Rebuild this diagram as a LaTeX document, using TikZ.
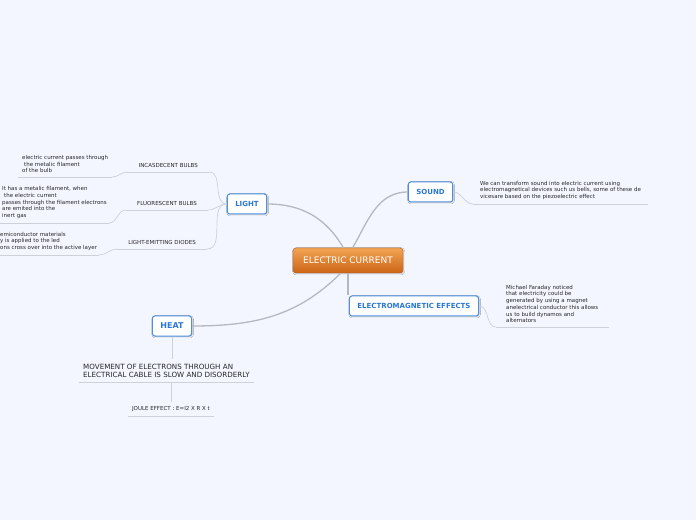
\documentclass[tikz,border=0pt]{standalone}
\usepackage{fontspec}
\setmainfont{DejaVu Sans}
\usetikzlibrary{shadows.blur}
\definecolor{mindbg}{HTML}{F3F6FE}
\definecolor{mindblue}{HTML}{2A78D2}
\definecolor{mindframe}{HTML}{4F90DA}
\definecolor{mindorangetop}{HTML}{F2A453}
\definecolor{mindorangebot}{HTML}{CC6415}
\definecolor{mindgray}{HTML}{B4B8C0}
\definecolor{mindline}{HTML}{CDD1D8}
\definecolor{mindtext}{HTML}{262626}
\tikzset{
  centraltopic/.style={rectangle,rounded corners=3pt,draw=mindorangebot!90!black,
    top color=mindorangetop,bottom color=mindorangebot,minimum width=110pt,minimum height=25pt,
    text=white,font=\fontsize{9}{10}\selectfont,
    blur shadow={shadow xshift=0.6pt,shadow yshift=-0.8pt,shadow opacity=25,shadow blur radius=1.2pt}},
  topic/.style={rectangle,rounded corners=2.5pt,draw=mindframe,fill=white,line width=1pt,
    inner xsep=8pt,minimum height=20pt,text=mindblue,font=\fontsize{#1}{9}\selectfont\bfseries,
    blur shadow={shadow xshift=0.6pt,shadow yshift=-0.8pt,shadow opacity=22,shadow blur radius=1.2pt}},
  topic/.default=7,
  subtopic/.style={inner xsep=11pt,inner ysep=4pt,text=mindtext,font=\fontsize{5.5}{6.7}\selectfont},
  note/.style={align=left,inner xsep=#1,inner ysep=4pt,text=mindtext,font=\fontsize{5.5}{6.7}\selectfont},
  note/.default=4pt,
  branch/.style={draw=mindgray,line width=1.3pt},
  twig/.style={draw=mindline,line width=0.7pt}
}

\begin{document}
\begin{tikzpicture}[x=1pt,y=1pt]
\useasboundingbox (0,0) rectangle (696,520);
\fill[mindbg] (0,0) rectangle (696,520);

% main topics
\node[centraltopic] (current) at (348,259.5) {ELECTRIC CURRENT};
\node[topic] (light) at (247,316) {LIGHT};
\node[topic] (sound) at (430.5,328) {SOUND};
\node[topic] (emeffects) at (414,214) {ELECTROMAGNETIC EFFECTS};
\node[topic=8] (heat) at (172,194) {HEAT};

% light
\node[subtopic,anchor=south east] (incandescent) at (209,348) {INCASDECENT BULBS};
\node[subtopic,anchor=south east] (fluorescent) at (208,310) {FLUORESCENT BULBS};
\node[subtopic,anchor=south east] (diodes) at (207,271) {LIGHT-EMITTING DIODES};
\node[note,anchor=south west] (incandescentnote) at (18,343)
  {electric current passes through\\\hspace{2pt}the metalic filament\\of the bulb};
\node[note=2pt,anchor=south west] (fluorescentnote) at (0,297)
  {It has a metalic filament, when\\\hspace{2pt}the electric current\\passes through the filament electrons\\are emited into the\\inert gas};
\node[note=2pt,anchor=south west] (diodesnote) at (-2,265)
  {emiconductor materials\\y is applied to the led\\ons cross over into the active layer};

% sound and electromagnetic effects
\node[note=7pt,anchor=south west] (soundnote) at (473,316)
  {We can transform sound into electric current using\\electromagnetical devices such us bells, some of these de\\vicesare based on the piezoelectric effect};
\node[note=10pt,anchor=south west] (emnote) at (496,193)
  {Michael Faraday noticed\\that electricity could be\\generated by using a magnet\\anelectrical conductor this allows\\us to build dynamos and\\alternators};

% heat
\node[note=4pt,inner ysep=4.5pt,anchor=south west,font=\fontsize{7.15}{8}\selectfont] (heatnote) at (79,138)
  {MOVEMENT OF ELECTRONS THROUGH AN\\ELECTRICAL CABLE IS SLOW AND DISORDERLY};
\node[subtopic,inner xsep=4pt,anchor=south] (joule) at (171,104) {JOULE EFFECT : E=I2 X R X t};

% underlines
\foreach \n in {incandescent,fluorescent,diodes,incandescentnote,fluorescentnote,diodesnote,soundnote,emnote,heatnote,joule}
  \draw[twig] (\n.south west) -- (\n.south east);

% branches
\draw[branch] (light.east) to[out=0,in=120] (current.110);
\draw[branch] (current.70) to[out=60,in=180] (sound.west);
\draw[branch] (current.south) -- (current.south |- emeffects.north);
\draw[branch] (current.240) to[out=225,in=0] (heat.east);

\draw[twig] (incandescent.south east) to[out=0,in=180] (light.west);
\draw[twig] (fluorescent.south east) to[out=0,in=180] (light.west);
\draw[twig] (diodes.south east) to[out=0,in=180] (light.west);
\draw[twig] (incandescentnote.south east) to[out=0,in=180] (incandescent.south west);
\draw[twig] (fluorescentnote.south east) to[out=0,in=180] (fluorescent.south west);
\draw[twig] (diodesnote.south east) to[out=0,in=180] (diodes.south west);
\draw[twig] (sound.east) to[out=0,in=180] (soundnote.south west);
\draw[twig] (emeffects.east) to[out=0,in=180] (emnote.south west);
\draw[twig] (heat.south) -- (heat.south |- heatnote.north);
\draw[twig] (joule.north |- heatnote.south) -- (joule.north);
\end{tikzpicture}
\end{document}
